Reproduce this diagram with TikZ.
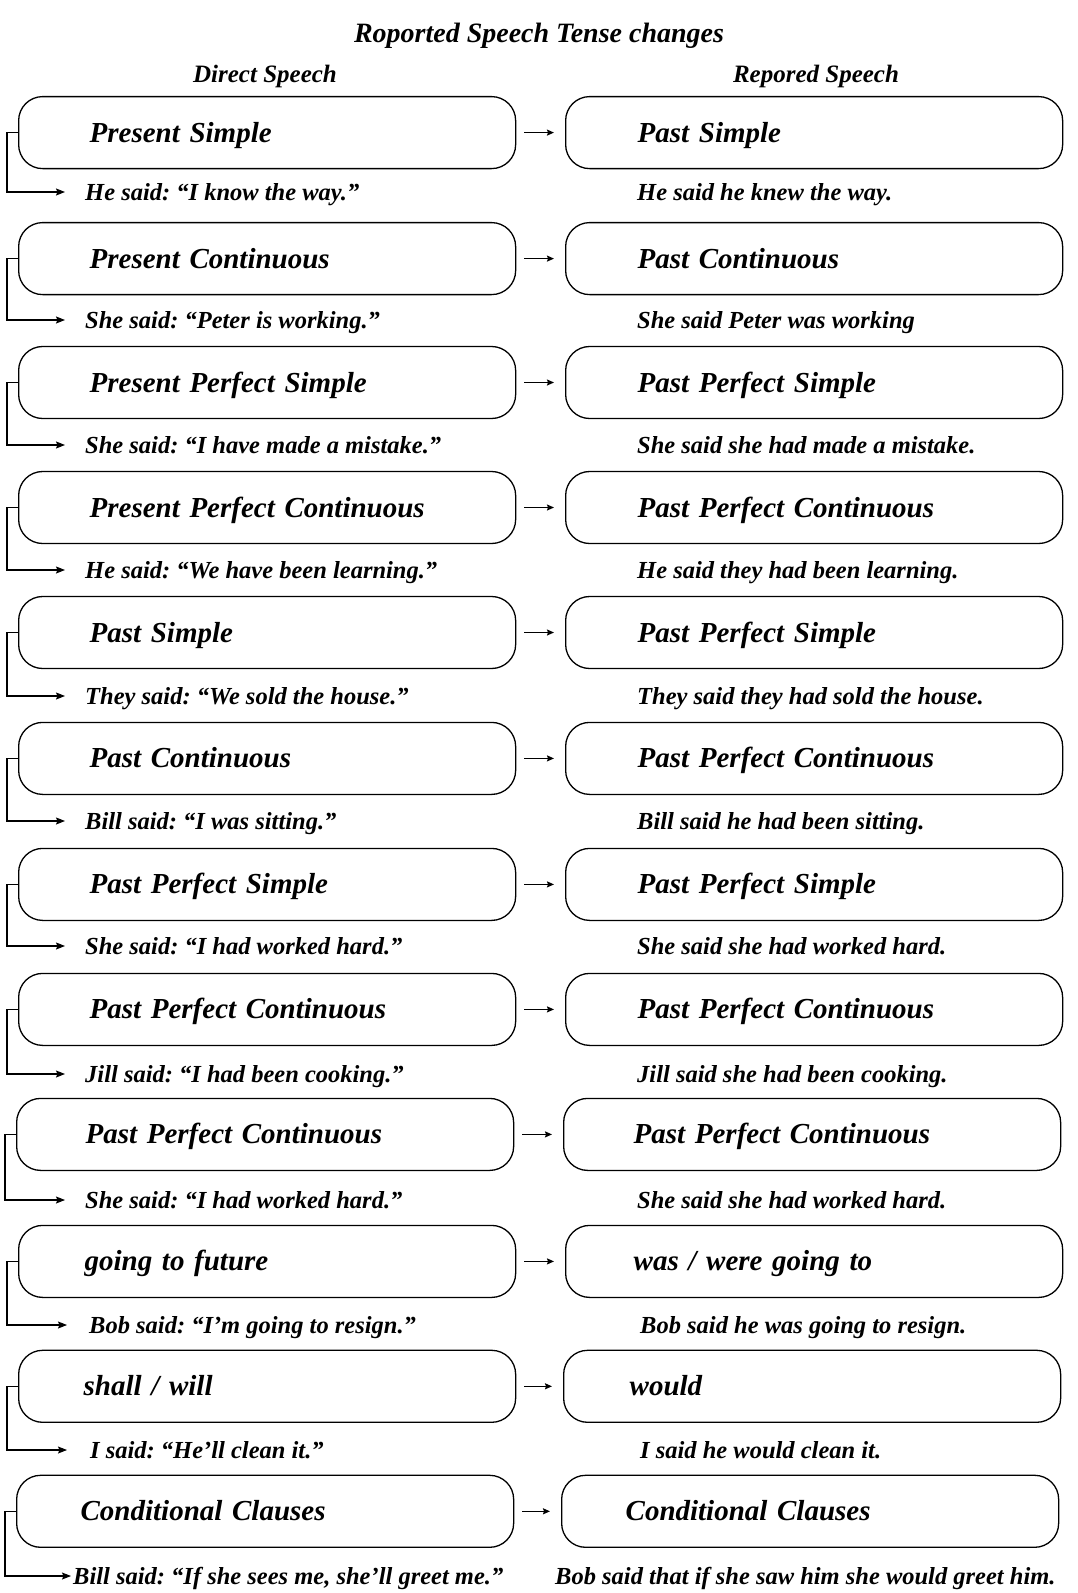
\documentclass[tikz,border=0pt]{standalone}
\usepackage{fontspec}
\setmainfont{Liberation Serif}
\usetikzlibrary{arrows.meta,positioning}
\frenchspacing
\newcommand{\tensefont}{\fontsize{29}{34}\selectfont\bfseries\itshape}
\newcommand{\sayfont}{\fontsize{24.5}{29}\selectfont\bfseries\itshape}
\tikzset{
  tense/.style={draw,line width=1.3pt,rounded corners=24pt,anchor=west,
    minimum height=72pt,align=left,font=\tensefont,text height=19pt,text depth=0pt},
  saying/.style={anchor=west,inner sep=0pt,font=\sayfont,text height=17pt,text depth=1pt},
  head/.style={font=\fontsize{25}{30}\selectfont\bfseries\itshape,inner sep=0pt},
  link/.style={-{Stealth[length=9pt,width=7pt,inset=1.5pt]},line width=1.1pt},
  turn/.style={-{Stealth[length=7pt,width=6pt,inset=1pt]},line width=1.3pt,
    shorten <=8pt,shorten >=11pt},
}
\begin{document}
\begin{tikzpicture}[x=1pt,y=-1pt]
  \useasboundingbox (0,0) rectangle (1077,1593);
  \node[head,font=\fontsize{28}{32}\selectfont\bfseries\itshape] (title) at (539,35.5) {Roported Speech Tense changes};
  \node[head] (direct) at (265,76) {Direct Speech};
  \node[head] (reported) at (816,76) {Repored Speech};
  % one row per tense: box, box, and the two sentences
  \foreach \n/\cy/\sy/\lx/\rx/\lo/\ro/\lsx/\rsx/\ag/\lt/\rt/\ls/\rs
    [evaluate=\lo as \lw using 497-2*\lo, evaluate=\ro as \rw using 497-2*\ro] in {
    1/132.6/192/18/565/71/72/85/637/20/{Present Simple}/{Past Simple}/{He said: “I know the way.”}/{He said he knew the way.},
    2/258.6/320/18/565/71/72/85/637/20/{Present Continuous}/{Past Continuous}/{She said: “Peter is working.”}/{She said Peter was working},
    3/382.5/445/18/565/71/72/85/637/20/{Present Perfect Simple}/{Past Perfect Simple}/{She said: “I have made a mistake.”}/{She said she had made a mistake.},
    4/507.5/570/18/565/71/72/85/637/20/{Present Perfect Continuous}/{Past Perfect Continuous}/{He said: “We have been learning.”}/{He said they had been learning.},
    5/632.5/696/18/565/71/72/85/637/20/{Past Simple}/{Past Perfect Simple}/{They said: “We sold the house.”}/{They said they had sold the house.},
    6/758.4/821/18/565/71/72/85/637/20/{Past Continuous}/{Past Perfect Continuous}/{Bill said: “I was sitting.”}/{Bill said he had been sitting.},
    7/884.4/946/18/565/71/72/85/637/20/{Past Perfect Simple}/{Past Perfect Simple}/{She said: “I had worked hard.”}/{She said she had worked hard.},
    8/1009.4/1074/18/565/71/72/85/637/20/{Past Perfect Continuous}/{Past Perfect Continuous}/{Jill said: “I had been cooking.”}/{Jill said she had been cooking.},
    9/1134.4/1200/16/563/69/70/85/637/20/{Past Perfect Continuous}/{Past Perfect Continuous}/{She said: “I had worked hard.”}/{She said she had worked hard.},
    10/1261.4/1325/18/565/66/68/89/640/22/{going to future}/{was / were going to}/{Bob said: “I’m going to resign.”}/{Bob said he was going to resign.},
    11/1386.3/1450/18/563/65/66/90/640/23/{shall / will}/{would}/{I said: “He’ll clean it.”}/{I said he would clean it.},
    12/1511.3/1576/16/561/64/64/73/555/2/{Conditional Clauses}/{Conditional Clauses}/{Bill said: “If she sees me, she’ll greet me.”}/{Bob said that if she saw him she would greet him.}} {
    \node[tense,inner xsep=\lo pt,text width=\lw pt] (l\n) at (\lx,\cy) {\lt};
    \node[tense,inner xsep=\ro pt,text width=\rw pt] (r\n) at (\rx,\cy) {\rt};
    \node[saying] (ls\n) at (\lsx,\sy) {\ls};
    \node[saying] (rs\n) at (\rsx,\sy) {\rs};
    \draw[turn] (l\n.east) -- (r\n.west);
    \draw[link] (l\n.west) -- ++(-11,0) |- ([xshift=-\ag pt]ls\n.west);
  }
\end{tikzpicture}
\end{document}
